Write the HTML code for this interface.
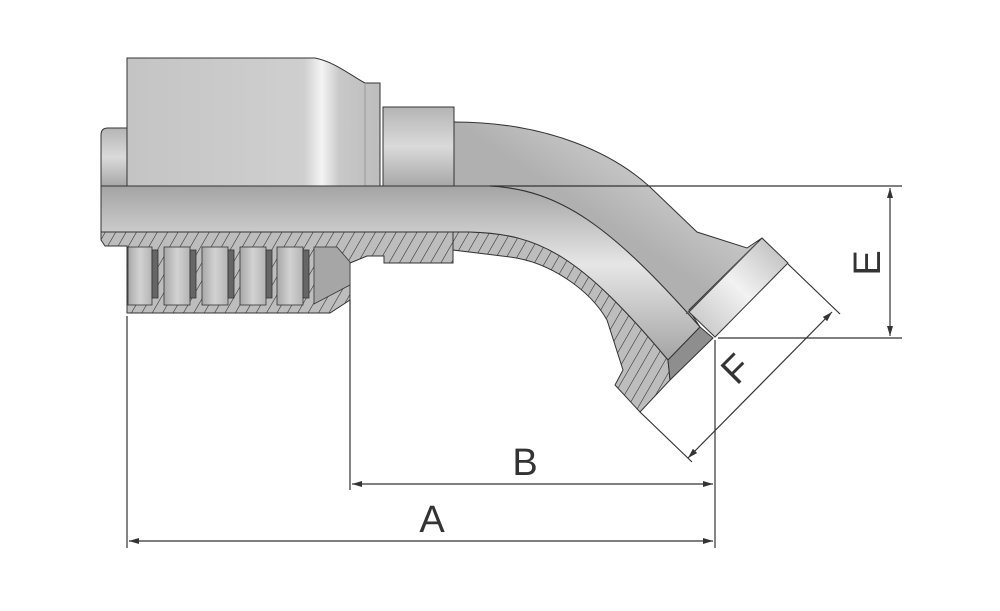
<!DOCTYPE html>
<html><head><meta charset="utf-8"><style>
html,body{margin:0;padding:0;background:#fff;}
svg{display:block;}
text{font-family:"Liberation Sans",sans-serif;fill:#333;}
</style></head><body>
<svg width="1000" height="611" viewBox="0 0 1000 611" xmlns="http://www.w3.org/2000/svg">
<defs>
<linearGradient id="gv" x1="0" y1="0" x2="0" y2="1">
<stop offset="0" stop-color="#b5b5b5"/><stop offset="0.5" stop-color="#dadada"/><stop offset="1" stop-color="#a8a8a8"/></linearGradient>
<linearGradient id="gs" x1="0" y1="0" x2="1" y2="0">
<stop offset="0" stop-color="#c4c4c4"/><stop offset="0.7" stop-color="#cfcfcf"/><stop offset="0.77" stop-color="#f4f4f4"/><stop offset="0.84" stop-color="#c8c8c8"/><stop offset="1" stop-color="#bdbdbd"/></linearGradient>
<linearGradient id="gt" x1="0" y1="0" x2="0" y2="1">
<stop offset="0" stop-color="#a4a4a4"/><stop offset="0.45" stop-color="#e6e6e6"/><stop offset="1" stop-color="#a4a4a4"/></linearGradient>
<linearGradient id="gp" x1="0" y1="0" x2="1" y2="-1">
<stop offset="0" stop-color="#b0b0b0"/><stop offset="0.5" stop-color="#ececec"/><stop offset="1" stop-color="#b8b8b8"/></linearGradient>
<linearGradient id="gf" x1="0" y1="1" x2="1" y2="0">
<stop offset="0" stop-color="#c0c0c0"/><stop offset="0.5" stop-color="#f2f2f2"/><stop offset="1" stop-color="#b8b8b8"/></linearGradient>
<linearGradient id="gr" x1="0" y1="0" x2="1" y2="0">
<stop offset="0" stop-color="#a8a8a8"/><stop offset="0.5" stop-color="#d2d2d2"/><stop offset="1" stop-color="#b4b4b4"/></linearGradient>
<pattern id="h" width="9" height="9" patternUnits="userSpaceOnUse" patternTransform="rotate(30)">
<rect width="9" height="9" fill="#bdbdbd"/><line x1="0" y1="0" x2="0" y2="9" stroke="#2a2a2a" stroke-width="1.1"/></pattern>
<marker id="ar" markerWidth="10" markerHeight="6" refX="10" refY="3" orient="auto" markerUnits="userSpaceOnUse"><path d="M0,0 L10,3 L0,6 z" fill="#333"/></marker>
<marker id="al" markerWidth="10" markerHeight="6" refX="0" refY="3" orient="auto" markerUnits="userSpaceOnUse"><path d="M10,0 L0,3 L10,6 z" fill="#333"/></marker>
</defs>

<!-- left ring -->
<path d="M108,128 L127,128 L127,186 L101,186 L101,135 Q101,128 108,128 Z" fill="url(#gv)" stroke="#333" stroke-width="1"/>
<!-- socket -->
<path d="M127,58 L315,58 C335,62 350,75 365,83 L380,83 L380,186 L127,186 Z" fill="url(#gs)" stroke="#333" stroke-width="1"/>
<line x1="365" y1="83" x2="365" y2="186" stroke="#999"/>
<!-- nut -->
<rect x="383" y="107" width="71" height="79" fill="url(#gv)" stroke="#333"/>
<!-- elbow body upper -->
<path d="M454,122 C550,122 615,155 650,187 L697,232 L747,248 L762,238 L689,310 L700,327 C610,225 560,190 490,186 L454,186 Z" fill="url(#gp)" stroke="#333"/>
<!-- hatched sections -->
<path d="M101,232 L453,232 L453,263 L384,263 L384,256 L367,256 L350,263 L350,300 L330,313 L127,313 L127,246 L105,246 L101,240 Z" fill="url(#h)" stroke="#333"/>
<path d="M453,232 L470,232 C540,234 580,255 668,360 L670,380 L640,412 L615,385 L623,370 L607,320 C590,290 550,262 510,257 L453,250 Z" fill="url(#h)" stroke="#333"/>
<!-- hose ribs -->
<g stroke="#333" stroke-width="0.8">
<rect x="128" y="247" width="24" height="58" fill="url(#gr)"/><rect x="152" y="250" width="6" height="48" fill="#666"/>
<rect x="164" y="247" width="26" height="58" fill="url(#gr)"/><rect x="190" y="250" width="6" height="48" fill="#666"/>
<rect x="202" y="247" width="26" height="58" fill="url(#gr)"/><rect x="228" y="250" width="6" height="48" fill="#666"/>
<rect x="240" y="247" width="26" height="58" fill="url(#gr)"/><rect x="266" y="250" width="6" height="48" fill="#666"/>
<rect x="277" y="247" width="26" height="58" fill="url(#gr)"/><rect x="303" y="250" width="6" height="48" fill="#666"/>
<path d="M314,247 L337,247 L350,262 L350,285 L314,304 Z" fill="#a6a6a6"/>
</g>
<!-- insert pipe -->
<path d="M101,186 L490,186 C560,190 610,225 700,327 L668,360 C580,255 540,234 470,232 L101,232 Z" fill="url(#gt)" stroke="#333"/>
<path d="M700,327 L713,338 L670,380 L668,360 Z" fill="#8e8e8e" stroke="#333"/>
<!-- flange -->
<path d="M762,238 L788,263 L715,337 L689,312 Z" fill="url(#gf)" stroke="#333"/>
<line x1="758" y1="242" x2="686" y2="314" stroke="#555"/>

<!-- dimension lines -->
<g stroke="#333" stroke-width="1.2" fill="none">
<line x1="490" y1="186" x2="902" y2="186"/>
<line x1="718" y1="338" x2="902" y2="338"/>
<line x1="890" y1="188" x2="890" y2="336" marker-start="url(#al)" marker-end="url(#ar)"/>
<line x1="127" y1="316" x2="127" y2="548"/>
<line x1="715" y1="340" x2="715" y2="548"/>
<line x1="129" y1="541" x2="713" y2="541" marker-start="url(#al)" marker-end="url(#ar)"/>
<line x1="350" y1="300" x2="350" y2="490"/>
<line x1="352" y1="484" x2="713" y2="484" marker-start="url(#al)" marker-end="url(#ar)"/>
<line x1="788" y1="264" x2="840" y2="314"/>
<line x1="640" y1="412" x2="692" y2="462"/>
<line x1="832" y1="312" x2="688" y2="458" marker-start="url(#al)" marker-end="url(#ar)"/>
</g>
<text x="432" y="532" font-size="38" text-anchor="middle">A</text>
<text x="525" y="475" font-size="38" text-anchor="middle">B</text>
<text transform="translate(880,263) rotate(-90)" font-size="38" text-anchor="middle">E</text>
<text transform="translate(745,378) rotate(-45)" font-size="38" text-anchor="middle">F</text>
</svg>
</body></html>
